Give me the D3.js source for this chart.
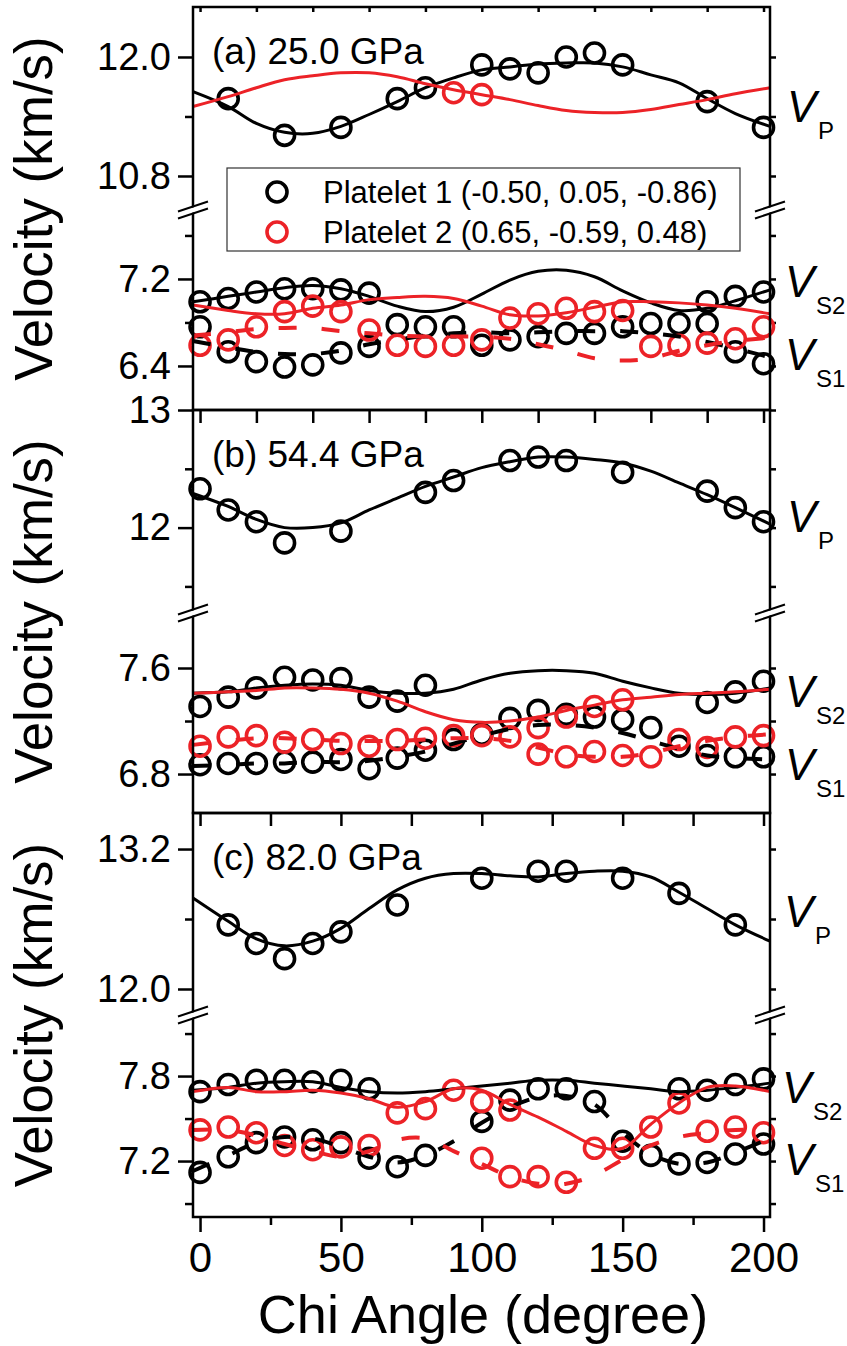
<!DOCTYPE html>
<html>
<head>
<meta charset="utf-8">
<script src="https://cdn.jsdelivr.net/npm/d3@7"></script>
<style>
body { margin:0; background:#fff; }
text { font-family: Arial, "Liberation Sans", sans-serif; }
</style>
</head>
<body>
<svg id="chart"></svg>
<script>
var size = {width:847, height:1346}
var frame = {left:193, right:770}
var red = "#ec2227"
var black = "#000"

var chiFit = [-2.5,10,20,30,40,50,60,70,80,90,100,110,120,130,140,150,160,170,180,190,202.3]

// ---- panel (a) 25.0 GPa ----
var aP1Vp = [[10,11.58],[30,11.21],[50,11.29],[70,11.58],[80,11.69],[100,11.92],[110,11.88],[120,11.84],[130,12.00],[140,12.04],[150,11.92],[180,11.55],[200,11.29]]
var aP2Vp = [[90,11.64],[100,11.62]]
var aP1Vs2 = [[0,6.99],[10,7.02],[20,7.08],[30,7.11],[40,7.11],[50,7.10],[60,7.07],[70,6.78],[80,6.76],[90,6.76],[160,6.79],[170,6.79],[180,6.99],[190,7.04],[200,7.08]]
var aP1Vs1 = [[0,6.76],[10,6.53],[20,6.44],[30,6.39],[40,6.41],[50,6.52],[60,6.58],[100,6.59],[110,6.64],[120,6.67],[130,6.70],[140,6.70],[150,6.76],[180,6.79],[190,6.53],[200,6.42]]
var aP2Vs2 = [[20,6.76],[30,6.90],[40,6.95],[50,6.90],[110,6.84],[120,6.88],[130,6.93],[140,6.90],[150,6.91],[200,6.76]]
var aP2Vs1 = [[0,6.59],[10,6.64],[60,6.73],[70,6.59],[80,6.58],[90,6.59],[100,6.64],[160,6.58],[170,6.59],[180,6.61],[190,6.65]]
var aP1VpFit = [11.65,11.50,11.33,11.24,11.23,11.30,11.42,11.55,11.69,11.79,11.87,11.90,11.93,11.94,11.94,11.90,11.82,11.74,11.58,11.43,11.30]
var aP2VpFit = [11.50,11.60,11.69,11.77,11.81,11.84,11.84,11.80,11.73,11.67,11.62,11.57,11.51,11.46,11.44,11.44,11.47,11.52,11.57,11.63,11.69]
var aP1Vs2Fit = [6.99,7.04,7.08,7.12,7.14,7.11,7.04,6.95,6.90,6.94,7.06,7.19,7.27,7.28,7.22,7.09,6.98,6.91,6.93,7.00,7.10]
var aP1Vs1Fit = [6.63,6.57,6.53,6.51,6.51,6.54,6.60,6.64,6.68,6.70,6.71,6.70,6.71,6.72,6.72,6.72,6.70,6.67,6.62,6.56,6.48]
var aP2Vs2Fit = [6.96,6.91,6.88,6.88,6.93,6.96,7.01,7.03,7.04,7.02,6.95,6.87,6.86,6.89,6.94,6.99,6.99,6.98,6.96,6.93,6.88]
var aP2Vs1Fit = [6.68,6.71,6.74,6.75,6.75,6.72,6.70,6.68,6.67,6.67,6.67,6.65,6.60,6.54,6.47,6.45,6.47,6.54,6.59,6.63,6.66]

// ---- panel (b) 54.4 GPa ----
var bP1Vp = [[0,12.33],[10,12.15],[20,12.05],[30,11.87],[50,11.97],[80,12.30],[90,12.40],[110,12.57],[120,12.60],[130,12.57],[150,12.47],[180,12.31],[190,12.17],[200,12.05]]
var bP1Vs2 = [[0,7.31],[10,7.38],[20,7.45],[30,7.53],[40,7.51],[50,7.52],[60,7.38],[70,7.35],[80,7.47],[110,7.22],[120,7.28],[130,7.25],[140,7.23],[150,7.21],[160,7.15],[180,7.34],[190,7.42],[200,7.50]]
var bP1Vs1 = [[0,6.87],[10,6.88],[20,6.88],[30,6.89],[40,6.89],[50,6.91],[60,6.84],[70,6.92],[80,6.98],[90,7.06],[100,7.10],[170,7.01],[180,6.94],[190,6.93],[200,6.93]]
var bP2Vs2 = [[120,7.15],[130,7.23],[140,7.31],[150,7.36]]
var bP2Vs1 = [[0,7.01],[10,7.08],[20,7.09],[30,7.04],[40,7.06],[50,7.03],[60,7.01],[70,7.06],[80,7.07],[90,7.09],[100,7.09],[110,7.08],[120,6.95],[130,6.93],[140,6.97],[150,6.94],[160,6.93],[170,7.06],[180,7.00],[190,7.08],[200,7.09]]
var bP1VpFit = [12.29,12.18,12.07,12.00,12.00,12.04,12.15,12.25,12.35,12.43,12.51,12.56,12.60,12.60,12.58,12.55,12.48,12.38,12.28,12.17,12.03]
var bP1Vs2Fit = [7.41,7.42,7.45,7.47,7.48,7.47,7.43,7.41,7.41,7.44,7.51,7.56,7.58,7.58,7.56,7.50,7.45,7.41,7.40,7.41,7.45]
var bP2Vs2Fit = [7.41,7.42,7.43,7.45,7.45,7.44,7.41,7.35,7.27,7.21,7.19,7.20,7.23,7.28,7.32,7.36,7.38,7.40,7.41,7.42,7.44]
var bP1Vs1Fit = [6.86,6.87,6.88,6.88,6.89,6.89,6.90,6.93,6.97,7.03,7.09,7.14,7.17,7.17,7.15,7.11,7.05,6.99,6.94,6.92,6.91]
var bP2Vs1Fit = [7.02,7.05,7.07,7.07,7.06,7.05,7.05,7.05,7.06,7.07,7.07,7.05,7.00,6.95,6.93,6.93,6.96,7.01,7.05,7.08,7.10]

// ---- panel (c) 82.0 GPa ----
var cP1Vp = [[10,12.55],[20,12.39],[30,12.26],[40,12.39],[50,12.49],[70,12.72],[100,12.95],[120,13.01],[130,13.01],[150,12.95],[170,12.82],[190,12.55]]
var cP1Vs2 = [[0,7.69],[10,7.74],[20,7.77],[30,7.77],[40,7.76],[50,7.77],[60,7.71],[110,7.63],[120,7.71],[130,7.71],[140,7.62],[170,7.71],[180,7.70],[190,7.74],[200,7.78]]
var cP1Vs1 = [[0,7.12],[10,7.23],[20,7.33],[30,7.37],[40,7.35],[50,7.33],[60,7.22],[70,7.16],[80,7.24],[100,7.48],[150,7.34],[160,7.24],[170,7.18],[180,7.19],[190,7.25],[200,7.32]]
var cP2Vs2 = [[70,7.54],[80,7.57],[90,7.70],[100,7.62],[110,7.56],[160,7.44],[170,7.61]]
var cP2Vs1 = [[0,7.42],[10,7.44],[20,7.40],[30,7.31],[40,7.28],[50,7.30],[60,7.31],[100,7.22],[110,7.09],[120,7.09],[130,7.05],[140,7.29],[150,7.29],[180,7.41],[190,7.44],[200,7.40]]
var cP1VpFit = [12.78,12.58,12.43,12.37,12.41,12.52,12.69,12.85,12.95,12.99,12.99,12.97,12.96,12.99,13.01,13.01,12.96,12.83,12.69,12.55,12.41]
var cP1Vs2Fit = [7.70,7.72,7.75,7.76,7.76,7.72,7.69,7.68,7.69,7.71,7.73,7.75,7.77,7.77,7.75,7.73,7.71,7.69,7.70,7.72,7.75]
var cP2Vs2Fit = [7.69,7.72,7.69,7.69,7.70,7.68,7.64,7.58,7.62,7.71,7.70,7.60,7.51,7.41,7.31,7.29,7.46,7.61,7.72,7.73,7.69]
var cP1Vs1Fit = [7.13,7.24,7.33,7.37,7.36,7.30,7.23,7.19,7.24,7.34,7.47,7.58,7.65,7.66,7.60,7.40,7.25,7.18,7.19,7.26,7.36]
var cP2Vs1Fit = [7.42,7.42,7.38,7.32,7.27,7.23,7.27,7.35,7.36,7.27,7.18,7.09,7.04,7.04,7.10,7.21,7.31,7.37,7.40,7.42,7.42]

var legendLabels = ["Platelet 1 (-0.50, 0.05, -0.86)", "Platelet 2 (0.65, -0.59, 0.48)"]

var fit = function(vals){ return chiFit.map(function(c,i){ return [c, vals[i]] }) }

// layout of the three stacked panels (broken y axis in each)
var panels = [
  {title:"(a) 25.0 GPa", top:7, brk:210, bottom:410,
   up:[10.457,12.504], lo:[5.995,7.834],
   upMajor:[10.8,12.0], upMinor:[11.4], loMajor:[6.4,7.2], loMinor:[6.8,7.6], upFmt:".1f",
   pts:[[aP1Vs2,"lo",black],[aP1Vs1,"lo",black],[aP1Vp,"up",black],[aP2Vs2,"lo",red],[aP2Vs1,"lo",red],[aP2Vp,"up",red]],
   fits:[[aP1VpFit,"up",black,false],[aP1Vs2Fit,"lo",black,false],[aP1Vs1Fit,"lo",black,true],
         [aP2VpFit,"up",red,false],[aP2Vs2Fit,"lo",red,false],[aP2Vs1Fit,"lo",red,true]],
   vLab:[[790,122,"P"],[788,297,"S2"],[788,370,"S1"]]},
  {title:"(b) 54.4 GPa", top:410, brk:613, bottom:813,
   up:[11.274,13.0], lo:[6.506,8.015],
   upMajor:[12,13], upMinor:[11.5,12.5], loMajor:[6.8,7.6], loMinor:[7.2], upFmt:"d",
   pts:[[bP1Vs2,"lo",black],[bP1Vs1,"lo",black],[bP1Vp,"up",black],[bP2Vs2,"lo",red],[bP2Vs1,"lo",red]],
   fits:[[bP1VpFit,"up",black,false],[bP1Vs2Fit,"lo",black,false],[bP1Vs1Fit,"lo",black,true],
         [bP2Vs2Fit,"lo",red,false],[bP2Vs1Fit,"lo",red,true]],
   vLab:[[790,532,"P"],[788,707,"S2"],[788,780,"S1"]]},
  {title:"(c) 82.0 GPa", top:813, brk:1015, bottom:1217,
   up:[11.777,13.509], lo:[6.805,8.231],
   upMajor:[12.0,13.2], upMinor:[12.6], loMajor:[7.2,7.8], loMinor:[6.9,7.5,8.1], upFmt:".1f",
   pts:[[cP1Vs2,"lo",black],[cP1Vs1,"lo",black],[cP1Vp,"up",black],[cP2Vs2,"lo",red],[cP2Vs1,"lo",red]],
   fits:[[cP1VpFit,"up",black,false],[cP1Vs2Fit,"lo",black,false],[cP1Vs1Fit,"lo",black,true],
         [cP2Vs2Fit,"lo",red,false],[cP2Vs1Fit,"lo",red,true]],
   vLab:[[787,927,"P"],[785,1103,"S2"],[787,1175,"S1"]]}
]

var svg = d3.select("#chart")
    .attr("width",size.width)
    .attr("height",size.height)

var x = d3.scaleLinear()
    .domain([-2.5,202.3])
    .range([frame.left,frame.right])

var styleAxis = function(g, fontSize)
{
    g.select(".domain").remove()
    g.selectAll(".tick line").attr("stroke","#000").attr("stroke-width",2.5)
    g.selectAll(".tick text").attr("fill","#000").style("font-size",fontSize+"px")
        .style("font-family","Arial, 'Liberation Sans', sans-serif")
}

var drawPanel = function(p)
{
    var g = svg.append("g")
    var yUp = d3.scaleLinear().domain(p.up).range([p.brk,p.top])
    var yLo = d3.scaleLinear().domain(p.lo).range([p.bottom,p.brk])
    var sc = {up:yUp, lo:yLo}

    // left axis, upper and lower segments
    g.append("g").attr("transform","translate("+frame.left+",0)")
        .call(d3.axisLeft(yUp).tickValues(p.upMajor).tickSize(15).tickPadding(7).tickFormat(d3.format(p.upFmt)))
        .call(styleAxis,38)
    g.append("g").attr("transform","translate("+frame.left+",0)")
        .call(d3.axisLeft(yLo).tickValues(p.loMajor).tickSize(15).tickPadding(7).tickFormat(d3.format(".1f")))
        .call(styleAxis,38)
    g.append("g").attr("transform","translate("+frame.left+",0)")
        .call(d3.axisLeft(yUp).tickValues(p.upMinor).tickSize(8).tickFormat(""))
        .call(styleAxis,10)
    g.append("g").attr("transform","translate("+frame.left+",0)")
        .call(d3.axisLeft(yLo).tickValues(p.loMinor).tickSize(8).tickFormat(""))
        .call(styleAxis,10)
    // right axis, short ticks
    g.append("g").attr("transform","translate("+frame.right+",0)")
        .call(d3.axisRight(yUp).tickValues(p.upMajor.concat(p.upMinor)).tickSize(6).tickFormat(""))
        .call(styleAxis,10)
    g.append("g").attr("transform","translate("+frame.right+",0)")
        .call(d3.axisRight(yLo).tickValues(p.loMajor.concat(p.loMinor)).tickSize(6).tickFormat(""))
        .call(styleAxis,10)

    // points
    p.pts.forEach(function(s)
    {
        g.append("g").selectAll("circle")
            .data(s[0])
            .enter()
            .append("circle")
            .attr("cx",function(d){return x(d[0])})
            .attr("cy",function(d){return sc[s[1]](d[1])})
            .attr("r",10)
            .attr("fill","none")
            .attr("stroke",s[2])
            .attr("stroke-width",3.6)
    })

    // fitted curves, black first then red on top
    var ordered = p.fits.filter(function(f){return f[2]==black}).concat(p.fits.filter(function(f){return f[2]==red}))
    ordered.forEach(function(f)
    {
        var line = d3.line()
            .x(function(d){return x(d[0])})
            .y(function(d){return sc[f[1]](d[1])})
            .curve(d3.curveCatmullRom.alpha(0.5))
        g.append("path")
            .attr("d",line(fit(f[0])))
            .attr("fill","none")
            .attr("stroke",f[2])
            .attr("stroke-width",f[3] ? 4 : 3)
            .attr("stroke-dasharray",f[3] ? "18,25" : null)
    })

    // frame
    g.append("rect")
        .attr("x",frame.left).attr("y",p.top)
        .attr("width",frame.right-frame.left).attr("height",p.bottom-p.top)
        .attr("fill","none").attr("stroke","#000").attr("stroke-width",2.5)

    // break marks on both sides
    ;[frame.left,frame.right].forEach(function(cx)
    {
        var cy = p.brk
        g.append("line").attr("x1",cx-15).attr("y1",cy+5).attr("x2",cx+15).attr("y2",cy-5)
            .attr("stroke","#fff").attr("stroke-width",5)
        ;[-3.5,3.5].forEach(function(o)
        {
            g.append("line").attr("x1",cx-15).attr("y1",cy+5+o).attr("x2",cx+15).attr("y2",cy-5+o)
                .attr("stroke","#000").attr("stroke-width",2)
        })
    })

    // panel title
    g.append("text").attr("x",212).attr("y",p.top+57)
        .style("font-size","37px").text(p.title)

    // y title
    g.append("text")
        .attr("transform","translate(52,"+((p.top+p.bottom)/2)+") rotate(-90)")
        .attr("text-anchor","middle")
        .style("font-size","53px")
        .text("Velocity (km/s)")

    // V_P, V_S2, V_S1 labels
    p.vLab.forEach(function(v)
    {
        g.append("text").attr("x",v[0]-3).attr("y",v[1])
            .style("font-size","44px").style("font-style","italic").text("V")
        g.append("text").attr("x",v[0]+28).attr("y",v[1]+17)
            .style("font-size","24px").text(v[2])
    })
}

panels.forEach(drawPanel)

// x ticks along the panel borders
var borderTicks = function(y0, step, len)
{
    svg.append("g").attr("transform","translate(0,"+y0+")")
        .call(d3.axisBottom(x).tickValues(d3.range(0,201,step)).tickSize(len).tickFormat(""))
        .call(styleAxis,10)
}
borderTicks(7,20,5)
borderTicks(410,20,13)
borderTicks(813,25,13)

svg.append("g").attr("transform","translate(0,1217)")
    .call(d3.axisBottom(x).tickValues([25,75,125,175]).tickSize(8).tickFormat(""))
    .call(styleAxis,10)
svg.append("g").attr("transform","translate(0,1217)")
    .call(d3.axisBottom(x).tickValues([0,50,100,150,200]).tickSize(15).tickPadding(10))
    .call(styleAxis,42)

svg.append("text")
    .attr("x",483).attr("y",1333)
    .attr("text-anchor","middle")
    .style("font-size","54px")
    .text("Chi Angle (degree)")

// legend
var legend = svg.append("g")
legend.append("rect")
    .attr("x",227).attr("y",168).attr("width",513).attr("height",83)
    .attr("fill","#fff").attr("stroke","#333").attr("stroke-width",1.2)
legend.selectAll("circle")
    .data(legendLabels)
    .enter()
    .append("circle")
    .attr("cx",277)
    .attr("cy",function(d,i){return 192+i*40})
    .attr("r",10)
    .attr("fill","none")
    .attr("stroke",function(d,i){return i==0 ? black : red})
    .attr("stroke-width",3.6)
legend.selectAll("text")
    .data(legendLabels)
    .enter()
    .append("text")
    .attr("x",323)
    .attr("y",function(d,i){return 203+i*40})
    .style("font-size","31px")
    .text(function(d){return d})
</script>
</body>
</html>
